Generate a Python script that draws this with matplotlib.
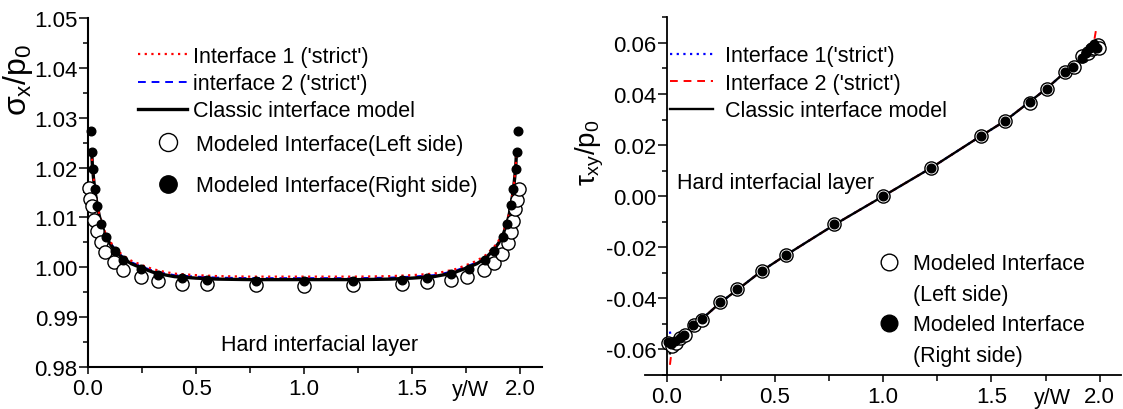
import matplotlib
matplotlib.use('Agg')
import matplotlib.pyplot as plt
from matplotlib.lines import Line2D
from matplotlib.ticker import MultipleLocator, FormatStrFormatter

plt.rcParams['font.family'] = ['Liberation Sans', 'DejaVu Sans']
plt.rcParams['mathtext.fontset'] = 'custom'
plt.rcParams['mathtext.rm'] = 'Liberation Sans'
plt.rcParams['mathtext.it'] = 'Liberation Sans'
plt.rcParams['axes.unicode_minus'] = False

#---------------- left panel data (sigma_x / p0) ----------------
xs_line = [0.017, 0.02, 0.025, 0.03, 0.04, 0.05, 0.06, 0.08, 0.10, 0.12, 0.16, 0.20, 0.25,
           0.30, 0.35, 0.40, 0.50, 0.60, 0.75, 1.0, 1.25, 1.40, 1.50, 1.60, 1.65, 1.70,
           1.75, 1.80, 1.84, 1.88, 1.90, 1.92, 1.94, 1.95, 1.96, 1.97, 1.975, 1.98, 1.983]
sx_classic = [1.0230, 1.0205, 1.0180, 1.0160, 1.0130, 1.0107, 1.0088, 1.0064, 1.0048, 1.0036,
              1.0018, 1.0007, 0.9998, 0.9990, 0.9985, 0.9981, 0.9978, 0.9976, 0.9975, 0.9975,
              0.9975, 0.9976, 0.9978, 0.9981, 0.9985, 0.9990, 0.9998, 1.0007, 1.0018, 1.0036,
              1.0048, 1.0064, 1.0088, 1.0107, 1.0130, 1.0160, 1.0180, 1.0205, 1.0230]
sx_int1 = [1.0231, 1.0206, 1.0182, 1.0162, 1.0133, 1.0110, 1.0092, 1.0069, 1.0053, 1.0041,
           1.0024, 1.0013, 1.0004, 0.9996, 0.9991, 0.9987, 0.9984, 0.9982, 0.9981, 0.9981,
           0.9981, 0.9982, 0.9984, 0.9987, 0.9991, 0.9996, 1.0004, 1.0013, 1.0024, 1.0041,
           1.0053, 1.0069, 1.0092, 1.0110, 1.0133, 1.0162, 1.0182, 1.0206, 1.0231]
sx_int2 = [1.0230, 1.0205, 1.0181, 1.0161, 1.0132, 1.0109, 1.0090, 1.0067, 1.0051, 1.0039,
           1.0021, 1.0010, 1.0001, 0.9993, 0.9988, 0.9984, 0.9981, 0.9979, 0.9978, 0.9978,
           0.9978, 0.9979, 0.9981, 0.9984, 0.9988, 0.9993, 1.0001, 1.0010, 1.0021, 1.0039,
           1.0051, 1.0067, 1.0090, 1.0109, 1.0132, 1.0161, 1.0181, 1.0205, 1.0230]

xs_left = [0.006, 0.011, 0.017, 0.029, 0.043, 0.060, 0.080, 0.118, 0.164, 0.245, 0.325, 0.437,
           0.551, 0.776, 1.0, 1.226, 1.452, 1.568, 1.679, 1.755, 1.833, 1.877, 1.918, 1.942,
           1.959, 1.969, 1.978, 1.986, 1.994]
sx_left = [1.0158, 1.0137, 1.0123, 1.0095, 1.0073, 1.0050, 1.0030, 1.0010, 0.99946, 0.99800,
           0.99725, 0.99672, 0.99652, 0.99639, 0.99625, 0.99639, 0.99659, 0.99693, 0.99739,
           0.99800, 0.99940, 1.0009, 1.0027, 1.0048, 1.0071, 1.0093, 1.0117, 1.0135, 1.0157]
xs_right = [0.0125, 0.017, 0.022, 0.034, 0.043, 0.061, 0.083, 0.123, 0.163, 0.245, 0.325, 0.437,
            0.551, 0.776, 1.0, 1.226, 1.452, 1.568, 1.679, 1.762, 1.837, 1.879, 1.919, 1.940,
            1.959, 1.969, 1.979, 1.984, 1.989]
sx_right = [1.0274, 1.0232, 1.0198, 1.0156, 1.0123, 1.0086, 1.0061, 1.0032, 1.0014, 0.99955,
            0.99845, 0.99779, 0.99739, 0.99719, 0.99713, 0.99719, 0.99739, 0.99779, 0.99855,
            0.99965, 1.0015, 1.0033, 1.0061, 1.0087, 1.0124, 1.0156, 1.0198, 1.0232, 1.0274]

#---------------- right panel data (tau_xy / p0) ----------------
xt_line = [0.015, 0.02, 0.04, 0.06, 0.08, 0.12, 0.16, 0.25, 0.33, 0.44, 0.55, 0.78, 1.0,
           1.22, 1.45, 1.56, 1.67, 1.75, 1.84, 1.88, 1.92, 1.94, 1.96, 1.975, 1.985]
tau_classic = [-0.0615, -0.0580, -0.0567, -0.0555, -0.0543, -0.0505, -0.0483, -0.0415, -0.0364,
               -0.0292, -0.0231, -0.0109, 0.0, 0.0110, 0.0235, 0.0293, 0.0365, 0.0418, 0.0485,
               0.0506, 0.0545, 0.0562, 0.0578, 0.0592, 0.0610]
tau_int1 = [-0.0530, -0.0565, -0.0566, -0.0555, -0.0543, -0.0505, -0.0483, -0.0415, -0.0364,
            -0.0292, -0.0231, -0.0109, 0.0, 0.0110, 0.0235, 0.0293, 0.0365, 0.0418, 0.0485,
            0.0506, 0.0545, 0.0562, 0.0578, 0.0590, 0.0585]
tau_int2 = [-0.0660, -0.0625, -0.0572, -0.0556, -0.0543, -0.0505, -0.0483, -0.0415, -0.0364,
            -0.0292, -0.0231, -0.0109, 0.0, 0.0110, 0.0235, 0.0293, 0.0365, 0.0418, 0.0485,
            0.0506, 0.0545, 0.0562, 0.0580, 0.0610, 0.0660]

xt_left = [0.005, 0.025, 0.045, 0.063, 0.085, 0.125, 0.165, 0.245, 0.325, 0.44, 0.551, 0.775,
           1.0, 1.223, 1.452, 1.562, 1.677, 1.757, 1.839, 1.88, 1.92, 1.945, 1.965, 1.975, 1.99, 1.997]
tau_left = [-0.0575, -0.0585, -0.0575, -0.0557, -0.0545, -0.0505, -0.0483, -0.0415, -0.0365,
            -0.0291, -0.0231, -0.0108, 0.0, 0.0111, 0.0235, 0.0294, 0.0366, 0.0418, 0.0485,
            0.0506, 0.0548, 0.0560, 0.0575, 0.0580, 0.0590, 0.0578]
xt_right = [0.008, 0.020, 0.038, 0.061, 0.082, 0.123, 0.163, 0.247, 0.325, 0.44, 0.551, 0.775,
            1.0, 1.223, 1.452, 1.562, 1.677, 1.757, 1.839, 1.877, 1.917, 1.937, 1.955, 1.975, 1.986]
tau_right = [-0.0571, -0.0578, -0.0567, -0.0554, -0.0542, -0.0504, -0.0482, -0.0415, -0.0365,
             -0.0291, -0.0231, -0.0108, 0.0, 0.0111, 0.0235, 0.0294, 0.0367, 0.0418, 0.0485,
             0.0505, 0.0542, 0.0561, 0.0581, 0.0594, 0.0581]

FS = 15.5
TFS = 16


def style_axis(ax, lw):
    ax.spines['top'].set_visible(False)
    ax.spines['right'].set_visible(False)
    for s in ('left', 'bottom'):
        ax.spines[s].set_linewidth(lw)
    ax.xaxis.set_major_locator(MultipleLocator(0.5))
    ax.xaxis.set_minor_locator(MultipleLocator(0.25))
    ax.xaxis.set_major_formatter(FormatStrFormatter('%.1f'))
    ax.tick_params(axis='x', which='major', direction='out', length=5, width=1.1,
                   pad=3, labelsize=TFS)
    ax.tick_params(axis='x', which='minor', direction='out', length=4, width=1.1)
    ax.tick_params(axis='y', which='major', direction='out', length=6.5, width=1.1,
                   pad=1, labelsize=TFS)
    ax.tick_params(axis='y', which='minor', direction='out', length=3.5, width=1.1)


fig = plt.figure(figsize=(11.23, 4.10), dpi=100)

#---------------- left ----------------
ax1 = fig.add_axes([0.0784, 0.1029, 0.4040, 0.8507])
ax1.set_xlim(0, 2.1)
ax1.set_ylim(0.98, 1.05)
style_axis(ax1, 1.5)
ax1.yaxis.set_major_locator(MultipleLocator(0.01))
ax1.yaxis.set_minor_locator(MultipleLocator(0.005))
ax1.yaxis.set_major_formatter(FormatStrFormatter('%.2f'))

l1, = ax1.plot(xs_line, sx_int1, color='red', linestyle=(0, (1, 2)), lw=1.6,
               label="Interface 1 ('strict')", zorder=3)
l2, = ax1.plot(xs_line, sx_int2, color='blue', linestyle=(0, (4, 3)), lw=1.4,
               label="interface 2 ('strict')", zorder=2)
l3, = ax1.plot(xs_line, sx_classic, color='black', lw=2.4,
               label='Classic interface model', zorder=2.5)
m1, = ax1.plot(xs_left, sx_left, 'o', ms=9.5, mfc='white', mec='black', mew=1.0,
               label='Modeled Interface(Left side)', clip_on=False, zorder=4)
m2, = ax1.plot(xs_right, sx_right, 'o', ms=6.2, mfc='black', mec='black',
               label='Modeled Interface(Right side)', clip_on=False, zorder=5)

leg1 = ax1.legend(handles=[l1, l2, l3], loc='upper left', bbox_to_anchor=(0.110, 0.921),
                  frameon=False, fontsize=FS, borderpad=0, borderaxespad=0,
                  handlelength=2.3, handletextpad=0.28, labelspacing=0.3)
ax1.add_artist(leg1)
leg2 = ax1.legend(handles=[m1, m2], loc='upper left', bbox_to_anchor=(0.153, 0.668),
                  frameon=False, fontsize=FS, borderpad=0, borderaxespad=0,
                  handlelength=1.0, handletextpad=0.8, labelspacing=0.95)
leg2.legend_handles[0].set_markersize(13)
leg2.legend_handles[1].set_markersize(12.5)

ax1.text(0.293, 0.065, 'Hard interfacial layer', transform=ax1.transAxes,
         fontsize=FS, ha='left', va='center')
ax1.set_ylabel(r'$\sigma_x/p_0$', fontsize=23)
ax1.yaxis.set_label_coords(-0.117, 0.825)
ax1.set_xlabel('y/W', fontsize=FS, va='center')
ax1.xaxis.set_label_coords(0.843, -0.064)

#---------------- right ----------------
ax2 = fig.add_axes([0.5744, 0.0829, 0.4241, 0.8724])
ax2.set_xlim(-0.1, 2.1)
ax2.set_ylim(-0.07, 0.07)
style_axis(ax2, 1.3)
ax2.spines['left'].set_position(('data', 0))
ax2.yaxis.set_major_locator(MultipleLocator(0.02))
ax2.yaxis.set_minor_locator(MultipleLocator(0.01))
ax2.yaxis.set_major_formatter(FormatStrFormatter('%.2f'))

r1, = ax2.plot(xt_line, tau_int1, color='blue', linestyle=(0, (1, 2)), lw=1.6,
               label="Interface 1('strict')", zorder=2)
r2, = ax2.plot(xt_line, tau_int2, color='red', linestyle=(0, (4, 3)), lw=1.4,
               label="Interface 2 ('strict')", zorder=2)
r3, = ax2.plot(xt_line, tau_classic, color='black', lw=1.7,
               label='Classic interface model', zorder=2.5)
n1, = ax2.plot(xt_left, tau_left, 'o', ms=9.5, mfc='white', mec='black', mew=1.0,
               zorder=4, clip_on=False)
n2, = ax2.plot(xt_right, tau_right, 'o', ms=6.2, mfc='black', mec='black',
               zorder=5, clip_on=False)

leg3 = ax2.legend(handles=[r1, r2, r3], loc='upper left', bbox_to_anchor=(0.0525, 0.922),
                  frameon=False, fontsize=FS, borderpad=0, borderaxespad=0,
                  handlelength=2.0, handletextpad=0.55, labelspacing=0.3)
ax2.add_artist(leg3)
blank = Line2D([], [], linestyle='none')
h_open = Line2D([], [], marker='o', linestyle='none', ms=12, mfc='white', mec='black', mew=1.0)
h_fill = Line2D([], [], marker='o', linestyle='none', ms=12, mfc='black', mec='black')
leg4 = ax2.legend(handles=[h_open, blank, h_fill, blank],
                  labels=['Modeled Interface', '(Left side)', 'Modeled Interface', '(Right side)'],
                  loc='upper left', bbox_to_anchor=(0.490, 0.341),
                  frameon=False, fontsize=FS, borderpad=0, borderaxespad=0,
                  handlelength=1.0, handletextpad=0.62, labelspacing=0.45)

ax2.text(0.0666, 0.539, 'Hard interfacial layer', transform=ax2.transAxes,
         fontsize=FS, ha='left', va='center')
ax2.set_ylabel(r'$\tau_{xy}/p_0$', fontsize=20)
ax2.yaxis.set_label_coords(-0.082, 0.625)
ax2.set_xlabel('y/W', fontsize=FS, va='center')
ax2.xaxis.set_label_coords(0.8545, -0.064)

fig.savefig('out.png', dpi=100)
